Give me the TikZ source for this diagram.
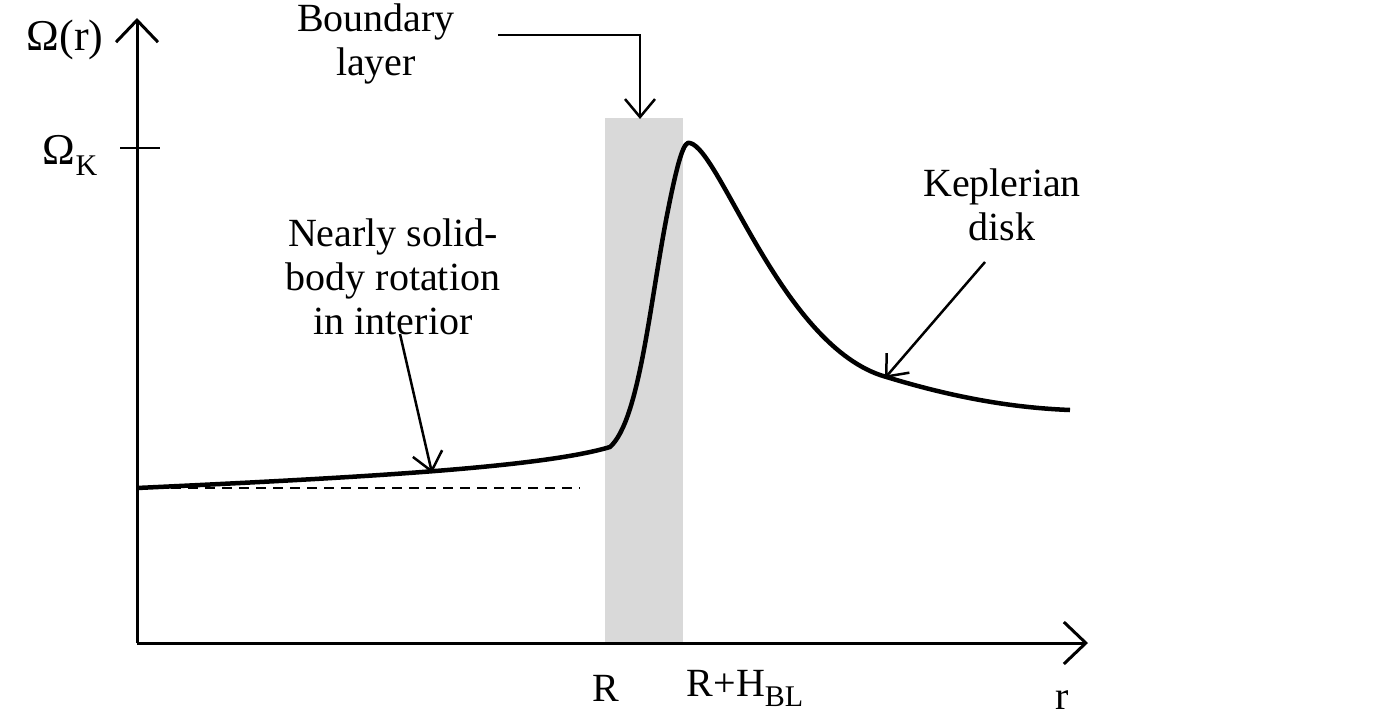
\documentclass[tikz,border=0pt]{standalone}
\usepackage{fontspec}
\setmainfont{Liberation Serif}
\usetikzlibrary{arrows.meta}
\begin{document}
\begin{tikzpicture}[x=1pt,y=-1pt,
  ax/.style={line width=3pt,-{Straight Barb[length=22pt,width=42pt,line width=3pt]}},
  ptr/.style={line width=2.5pt,-{Straight Barb[length=18pt,width=30pt,line width=2.5pt]}},
  lbl/.style={font=\fontsize{40}{44}\selectfont,align=center,inner sep=0pt}]
\useasboundingbox (0,0) rectangle (1393,721);
\fill[black!15] (605,118) rectangle (683,643);
\coordinate (o) at (137,643);
\coordinate (ytop) at (137,18);
\coordinate (xend) at (1088,643);
\draw[ax] (o) -- (ytop);
\draw[ax] (o) -- (xend);
\coordinate (t1) at (120,148); \coordinate (t2) at (160,148);
\draw[line width=2.5pt] (t1) -- (t2);
\node[lbl,font=\fontsize{44}{48}\selectfont] (om) at (65,40) {Ω(r)};
\node[lbl,font=\fontsize{44}{48}\selectfont] (omk) at (70,155) {Ω\raisebox{-0.25em}{\fontsize{30}{32}\selectfont K}};
\draw[line width=2.5pt,dash pattern=on 10pt off 7pt] (137,488) -- (580,488);
\draw[line width=4.5pt,line join=round] (137,488) .. controls (350,478) and (540,468) .. (610,447)
  .. controls (640,420) and (650,300) .. (668,210)
  .. controls (678,160) and (684,140) .. (690,143)
  .. controls (720,150) and (780,340) .. (880,375)
  .. controls (960,400) and (1020,408) .. (1070,410);
\node[lbl] (bl) at (376,44) {Boundary\\layer};
\coordinate (b1) at (498,35); \coordinate (b2) at (640,35); \coordinate (b3) at (640,119);
\draw[ptr] (b1) -- (b2) -- (b3);
\node[lbl] (ns) at (393,277) {Nearly solid-\\body rotation\\in interior};
\coordinate (n1) at (400,334); \coordinate (n2) at (432,473);
\draw[ptr] (n1) -- (n2);
\node[lbl] (kd) at (1002,205) {Keplerian\\disk};
\coordinate (k1) at (985,262); \coordinate (k2) at (885,378);
\draw[ptr] (k1) -- (k2);
\node[lbl] (rr) at (606,688) {R};
\node[lbl] (rh) at (745,688) {R+H\raisebox{-0.25em}{\fontsize{30}{32}\selectfont BL}};
\node[lbl] (r) at (1062,700) {r};
\end{tikzpicture}
\end{document}
